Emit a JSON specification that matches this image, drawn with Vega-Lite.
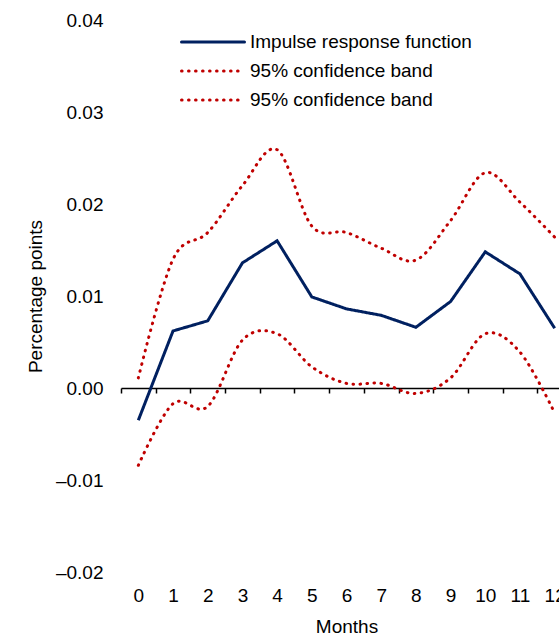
{
  "$schema": "https://vega.github.io/schema/vega-lite/v6.json",
  "autosize": {"type": "none"},
  "width": 438,
  "height": 552,
  "padding": {"left": 121, "top": 20, "right": 0, "bottom": 63},
  "background": "white",
  "config": {"font": "Liberation Sans", "view": {"stroke": null}},
  "data": {"values": [
    {"month": 0, "series": "IRF", "value": -0.0035},
    {"month": 1, "series": "IRF", "value": 0.0062},
    {"month": 2, "series": "IRF", "value": 0.0073},
    {"month": 3, "series": "IRF", "value": 0.0136},
    {"month": 4, "series": "IRF", "value": 0.0160},
    {"month": 5, "series": "IRF", "value": 0.0099},
    {"month": 6, "series": "IRF", "value": 0.0086},
    {"month": 7, "series": "IRF", "value": 0.0079},
    {"month": 8, "series": "IRF", "value": 0.0066},
    {"month": 9, "series": "IRF", "value": 0.0094},
    {"month": 10, "series": "IRF", "value": 0.0148},
    {"month": 11, "series": "IRF", "value": 0.0124},
    {"month": 12, "series": "IRF", "value": 0.0065},
    {"month": 0, "series": "Upper", "value": 0.0011},
    {"month": 1, "series": "Upper", "value": 0.0140},
    {"month": 2, "series": "Upper", "value": 0.0169},
    {"month": 3, "series": "Upper", "value": 0.0220},
    {"month": 4, "series": "Upper", "value": 0.0259},
    {"month": 5, "series": "Upper", "value": 0.0176},
    {"month": 6, "series": "Upper", "value": 0.0169},
    {"month": 7, "series": "Upper", "value": 0.0152},
    {"month": 8, "series": "Upper", "value": 0.0139},
    {"month": 9, "series": "Upper", "value": 0.0182},
    {"month": 10, "series": "Upper", "value": 0.0234},
    {"month": 11, "series": "Upper", "value": 0.0202},
    {"month": 12, "series": "Upper", "value": 0.0164},
    {"month": 0, "series": "Lower", "value": -0.0084},
    {"month": 1, "series": "Lower", "value": -0.0017},
    {"month": 2, "series": "Lower", "value": -0.0020},
    {"month": 3, "series": "Lower", "value": 0.0052},
    {"month": 4, "series": "Lower", "value": 0.0059},
    {"month": 5, "series": "Lower", "value": 0.0023},
    {"month": 6, "series": "Lower", "value": 0.0005},
    {"month": 7, "series": "Lower", "value": 0.0005},
    {"month": 8, "series": "Lower", "value": -0.0006},
    {"month": 9, "series": "Lower", "value": 0.0011},
    {"month": 10, "series": "Lower", "value": 0.0059},
    {"month": 11, "series": "Lower", "value": 0.0039},
    {"month": 12, "series": "Lower", "value": -0.0027}
  ]},
  "encoding": {
    "x": {
      "field": "month", "type": "ordinal",
      "scale": {"range": [0, 451], "paddingInner": 0, "paddingOuter": 0},
      "axis": {
        "orient": "bottom", "offset": -184, "tickBand": "extent",
        "labelAngle": 0, "labelPadding": 193, "labelFontSize": 19, "labelColor": "black",
        "domainColor": "black", "domainWidth": 1.5, "tickColor": "black", "tickWidth": 1.5, "tickSize": 5,
        "grid": false, "title": "Months", "titleFontSize": 19, "titleFontWeight": "normal",
        "titleColor": "black", "titleBaseline": "alphabetic", "titleY": 244
      }
    },
    "y": {
      "field": "value", "type": "quantitative",
      "scale": {"domain": [-0.02, 0.04], "nice": false, "zero": false},
      "axis": {
        "values": [-0.02, -0.01, 0, 0.01, 0.02, 0.03, 0.04],
        "labelExpr": "datum.value < 0 ? '\u2013' + format(abs(datum.value), '.2f') : format(datum.value, '.2f')",
        "domain": false, "ticks": false, "tickSize": 0, "grid": false,
        "labelPadding": 18, "labelFontSize": 19, "labelColor": "black",
        "title": "Percentage points", "titleFontSize": 19, "titleFontWeight": "normal",
        "titleColor": "black", "titlePadding": 10
      }
    },
    "color": {
      "field": "series", "type": "nominal",
      "scale": {"domain": ["IRF", "Upper", "Lower"], "range": ["#002060", "#C00000", "#C00000"]},
      "legend": {
        "orient": "none", "legendX": 80, "legendY": 10, "title": null,
        "symbolType": "M-3,0H3", "symbolSize": 441, "symbolStrokeWidth": 3,
        "labelOffset": 25, "labelFontSize": 19, "labelColor": "black", "labelLimit": 400,
        "rowPadding": 7, "padding": 0,
        "labelExpr": "datum.label == 'IRF' ? 'Impulse response function' : '95% confidence band'",
        "encode": {"symbols": {"update": {"strokeCap": {"value": "round"}}}}
      }
    },
    "strokeDash": {
      "field": "series", "type": "nominal",
      "scale": {"domain": ["IRF", "Upper", "Lower"], "range": [[1, 0], [0.6, 6.4], [0.6, 6.4]]},
      "legend": {
        "orient": "none", "legendX": 80, "legendY": 10, "title": null,
        "symbolType": "M-3,0H3", "symbolSize": 441, "symbolStrokeWidth": 3,
        "labelOffset": 25, "labelFontSize": 19, "labelColor": "black", "labelLimit": 400,
        "rowPadding": 7, "padding": 0,
        "labelExpr": "datum.label == 'IRF' ? 'Impulse response function' : '95% confidence band'",
        "encode": {"symbols": {"update": {"strokeCap": {"value": "round"}}}}
      }
    }
  },
  "layer": [
    {
      "transform": [{"filter": "datum.series == 'IRF'"}],
      "mark": {"type": "line", "strokeWidth": 3, "interpolate": "linear"}
    },
    {
      "transform": [{"filter": "datum.series != 'IRF'"}],
      "mark": {"type": "line", "strokeWidth": 3, "strokeCap": "round", "interpolate": "cardinal"}
    }
  ]
}
